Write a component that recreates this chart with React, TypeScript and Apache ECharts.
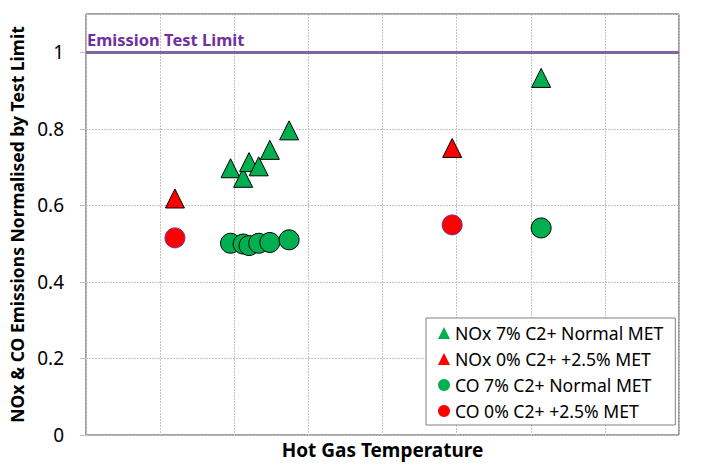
import React, { useEffect, useRef } from "react";
import * as echarts from "echarts";

const noxNormal: number[][] = [
  [1.95, 0.697], [2.12, 0.672], [2.2, 0.713], [2.33, 0.702], [2.48, 0.745], [2.74, 0.796], [6.14, 0.933],
];
const noxMet: number[][] = [
  [1.2, 0.618], [4.94, 0.75],
];
const coNormal: number[][] = [
  [1.95, 0.501], [2.12, 0.499], [2.2, 0.495], [2.33, 0.501], [2.48, 0.503], [2.74, 0.51], [6.14, 0.541],
];
const coMet: number[][] = [
  [1.2, 0.515], [4.94, 0.549],
];
const seriesNames = [
  "NOx 7% C2+ Normal MET",
  "NOx 0% C2+ +2.5% MET",
  "CO 7% C2+ Normal MET",
  "CO 0% C2+ +2.5% MET",
];
const limitValue = 1;
const limitLabel = "Emission Test Limit";
const xTitle = "Hot Gas Temperature";
const yTitle = "NOx & CO Emissions Normalised by Test Limit";

const GREEN = "#00B050";
const RED = "#FF0000";
const FONT = "Noto Sans";

export default function App() {
  const ref = useRef<HTMLDivElement>(null);
  useEffect(() => {
    if (!ref.current) return;
    const chart = echarts.init(ref.current, undefined, { renderer: "svg" });
    chart.setOption({
      animation: false,
      backgroundColor: "#fff",
      textStyle: { fontFamily: FONT },
      grid: {
        left: 86, right: 33, top: 14, bottom: 30,
        show: true, borderColor: "#404040", borderWidth: 1, backgroundColor: "transparent",
      },
      xAxis: {
        type: "value", min: 0, max: 8, interval: 1,
        axisLabel: { show: false }, axisTick: { show: false },
        axisLine: { show: false },
        splitLine: { show: true, lineStyle: { color: "#c4c4c4", type: [2, 1], width: 1 } },
        name: xTitle, nameLocation: "middle", nameGap: 5,
        nameTextStyle: { fontSize: 19, fontWeight: "bold", color: "#000", fontFamily: FONT },
      },
      yAxis: {
        type: "value", min: 0, max: 1.1, interval: 0.2,
        axisLine: { show: false },
        axisTick: { show: true, length: 6, lineStyle: { color: "#bfbfbf" } },
        axisLabel: { fontSize: 19, color: "#000", margin: 22, showMaxLabel: false, fontFamily: FONT },
        splitLine: { show: true, lineStyle: { color: "#c4c4c4", type: [2, 1], width: 1 } },
        name: yTitle, nameLocation: "middle", nameRotate: 90, nameGap: 50,
        nameTextStyle: { fontSize: 17.5, fontWeight: "bold", color: "#000", fontFamily: FONT },
      },
      legend: {
        orient: "vertical", left: 426, top: 318,
        padding: [6, 12, 5, 12], itemGap: 8, itemWidth: 12, itemHeight: 12,
        borderColor: "#808080", borderWidth: 1, backgroundColor: "#fff",
        textStyle: { fontSize: 17.6, color: "#000", fontFamily: FONT },
        itemStyle: { borderWidth: 0 },
        data: [
          { name: seriesNames[0], icon: "triangle" },
          { name: seriesNames[1], icon: "triangle" },
          { name: seriesNames[2], icon: "circle" },
          { name: seriesNames[3], icon: "circle" },
        ],
      },
      series: [
        {
          name: seriesNames[2], type: "scatter", data: coNormal, symbol: "circle", symbolSize: 20,
          itemStyle: { color: GREEN, borderColor: "#000", borderWidth: 1, opacity: 1 },
          markLine: {
            silent: true, symbol: ["none", "none"],
            lineStyle: { color: "#8064A2", width: 3, type: "solid" },
            label: {
              show: true, position: "insideStartTop", formatter: limitLabel, distance: [1, 4],
              color: "#7030A0", fontWeight: "bold", fontSize: 16.5, fontFamily: FONT,
            },
            data: [{ yAxis: limitValue }],
          },
        },
        {
          name: seriesNames[3], type: "scatter", data: coMet, symbol: "circle", symbolSize: 20,
          itemStyle: { color: RED, borderColor: "#7030A0", borderWidth: 1, opacity: 1 },
        },
        {
          name: seriesNames[0], type: "scatter", data: noxNormal, symbol: "triangle", symbolSize: 19,
          itemStyle: { color: GREEN, borderColor: "#000", borderWidth: 1, opacity: 1 },
        },
        {
          name: seriesNames[1], type: "scatter", data: noxMet, symbol: "triangle", symbolSize: 19,
          itemStyle: { color: RED, borderColor: "#000", borderWidth: 1, opacity: 1 },
        },
      ],
    });
    return () => chart.dispose();
  }, []);
  return (
    <div
      ref={ref}
      style={{ position: "absolute", left: 0, top: 0, width: 712, height: 465 }}
    />
  );
}
